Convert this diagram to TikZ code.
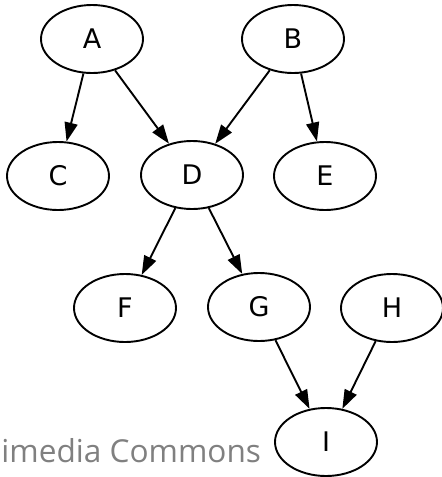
\documentclass[tikz,border=0pt]{standalone}
\usepackage{fontspec}
\setmainfont{DejaVu Sans}
\newfontfamily\wmfont{Open Sans}
\usetikzlibrary{shapes.geometric,arrows.meta}
\begin{document}
\begin{tikzpicture}[x=0.5pt,y=-0.5pt,
  vertex/.style={draw,ellipse,line width=0.95pt,minimum width=51pt,minimum height=34pt,inner sep=0pt,font=\fontsize{13.5pt}{16pt}\selectfont},
  edge/.style={draw,line width=0.95pt,-{Triangle[length=9.5pt,width=6.5pt]}},
  wm/.style={anchor=base west,inner sep=0pt,text=black!50,font=\wmfont\fontsize{15.8pt}{18pt}\selectfont}]
\useasboundingbox (0,0) rectangle (442,477);
\node[vertex] (A) at (92,39) {A};
\node[vertex] (B) at (293,39) {B};
\node[vertex] (C) at (58,176) {C};
\node[vertex] (D) at (192,175) {D};
\node[vertex] (E) at (325,176) {E};
\node[vertex] (F) at (125,308) {F};
\node[vertex] (G) at (259,307) {G};
\node[vertex] (H) at (392,308) {H};
\node[vertex] (I) at (326,442) {I};
\node[wm] (W) at (1,462) {imedia Commons};
\draw[edge] (A) -- (C);
\draw[edge] (A) -- (D);
\draw[edge] (B) -- (D);
\draw[edge] (B) -- (E);
\draw[edge] (D) -- (F);
\draw[edge] (D) -- (G);
\draw[edge] (G) -- (I);
\draw[edge] (H) -- (I);
\end{tikzpicture}
\end{document}
